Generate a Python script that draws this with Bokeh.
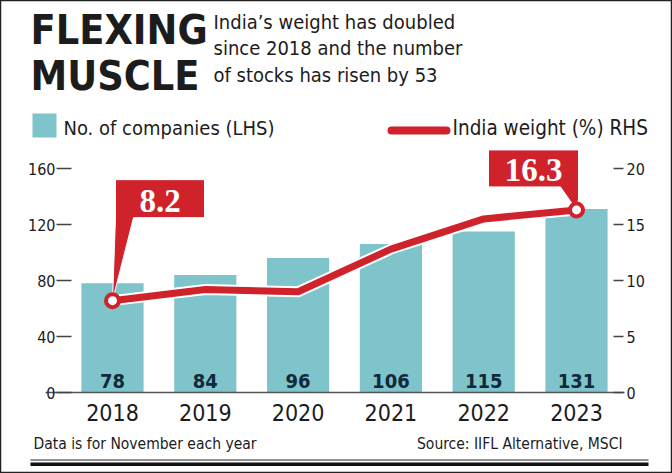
from bokeh.plotting import figure
from bokeh.models import Range1d, LinearAxis, FixedTicker, Label, BoxAnnotation, ColumnDataSource
from bokeh.core.properties import value
from bokeh.embed import file_html
from bokeh.resources import INLINE

# ---------------- data ----------------
years = ["2018", "2019", "2020", "2021", "2022", "2023"]
companies = [78, 84, 96, 106, 115, 131]
weight = [8.2, 9.2, 9.0, 12.8, 15.5, 16.3]
left_ticks = [0, 40, 80, 120, 160]
right_ticks = [0, 5, 10, 15, 20]

title_lines = ["FLEXING", "MUSCLE"]
subtitle_lines = ["India\u2019s weight has doubled",
                  "since 2018 and the number",
                  "of stocks has risen by 53"]
legend_bar = "No. of companies (LHS)"
legend_line = "India weight (%) RHS"
note_text = "Data is for November each year"
source_text = "Source: IIFL Alternative, MSCI"

# ---------------- style / layout ----------------
TEAL = "#7fc3cb"
RED = "#d0222a"
NAVY = "#0f2a3a"
INK = "#1c1c1c"
TITLEF = "DejaVu Sans Condensed, sans-serif"
NARROW = "DejaVu Sans Condensed, sans-serif"
SERIF = "Liberation Serif, DejaVu Serif, serif"

W, H = 672, 473
BAR0 = 112                    # x of first bar centre (px)
STEP = 92.8                   # px between bars
PXU = 1.4                     # px per left-axis unit
BASE = 392                    # y of the zero line (px from top)
RATIO = left_ticks[-1] / right_ticks[-1]


def dx(xr):
    return (xr - BAR0) / STEP


def dy(yr):
    return (BASE - yr) / PXU


xs = list(range(len(years)))

p = figure(width=W, height=H, output_backend="svg", toolbar_location=None,
           x_range=Range1d(dx(0), dx(W)), y_range=Range1d(dy(H), dy(0)),
           x_axis_location=None, y_axis_location=None,
           min_border=0)
p.extra_y_ranges = {"right": Range1d(dy(H) / RATIO, dy(0) / RATIO)}
p.grid.visible = False
p.outline_line_color = "#222222"
p.outline_line_width = 1.5
p.background_fill_color = "white"
p.border_fill_color = "white"

# x axis
xa = LinearAxis(ticker=FixedTicker(ticks=xs), fixed_location=0, bounds=(dx(45), dx(624)))
xa.major_label_overrides = {i: y for i, y in zip(xs, years)}
xa.major_tick_line_color = None
xa.minor_tick_line_color = None
xa.axis_line_color = "#555555"
xa.axis_line_width = 1.5
xa.major_label_standoff = 5
xa.major_label_text_font = NARROW
xa.major_label_text_font_size = "23px"
xa.major_label_text_color = INK
p.add_layout(xa, "below")

# left axis
la = LinearAxis(ticker=FixedTicker(ticks=left_ticks), fixed_location=dx(71))
la.axis_line_color = None
la.major_tick_in = 0
la.major_tick_out = 15
la.major_tick_line_color = "#444444"
la.major_tick_line_width = 1.5
la.minor_tick_line_color = None
la.major_label_standoff = 1
la.major_label_text_font = NARROW
la.major_label_text_font_size = "16px"
la.major_label_text_color = INK
p.add_layout(la, "left")

# right axis
ra = LinearAxis(y_range_name="right", ticker=FixedTicker(ticks=right_ticks),
                fixed_location=dx(613))
ra.axis_line_color = None
ra.major_tick_in = 0
ra.major_tick_out = 10
ra.major_tick_line_color = "#444444"
ra.major_tick_line_width = 1.5
ra.minor_tick_line_color = None
ra.major_label_standoff = 3
ra.major_label_text_font = NARROW
ra.major_label_text_font_size = "16px"
ra.major_label_text_color = INK
p.add_layout(ra, "right")

# bars
src = ColumnDataSource(dict(x=xs, c=companies, w=weight, lab=[str(c) for c in companies]))
p.vbar(x="x", top="c", width=0.67, source=src, fill_color=TEAL, line_color=None)
p.text(x="x", y=0, text="lab", source=src, text_align="center", text_baseline="bottom",
       y_offset=-5, text_font=value(NARROW), text_font_style="bold",
       text_font_size="20px", text_color=NAVY)

# line with white halo
p.line(x="x", y="w", source=src, y_range_name="right", line_width=11, line_color="white",
       line_join="round", line_cap="round")
p.line(x="x", y="w", source=src, y_range_name="right", line_width=7, line_color=RED,
       line_join="round")

# callouts for first and last value (pixel offsets from the point)
shapes = {
    0: [(3, 121), (92, 121), (92, 83), (21, 83), (0, 0), (3, 83)],
    len(xs) - 1: [(-88, 60), (2, 60), (2, 11), (0, 0), (-16, 23), (-88, 23)],
}
pys = PXU * RATIO
for i, poly in shapes.items():
    px = [xs[i] + ox / STEP for ox, oy in poly]
    py = [weight[i] + oy / pys for ox, oy in poly]
    p.patch(px, py, y_range_name="right", fill_color=RED, line_color="white", line_width=1)
    xl, xr = poly[0][0], poly[1][0]
    yt, yb = poly[0][1], poly[-1][1]
    p.text(x=[xs[i] + (xl + xr) / 2 / STEP], y=[weight[i] + (yt + yb) / 2 / pys],
           text=[f"{weight[i]:.1f}"], y_range_name="right", text_align="center",
           text_baseline="middle", text_font=value(SERIF), text_font_style="bold",
           text_font_size="33px", text_color="white", y_offset=2)

ends = [0, len(xs) - 1]
p.scatter(x=[xs[i] for i in ends], y=[weight[i] for i in ends], y_range_name="right",
          size=13, fill_color="white", line_color=RED, line_width=4)

# titles
for k, t in enumerate(title_lines):
    p.add_layout(Label(x=dx(30), y=dy(29 + k * 46), text=t, text_baseline="middle",
                       text_font=TITLEF, text_font_style="bold", text_font_size="41px",
                       text_color=INK))
for k, t in enumerate(subtitle_lines):
    p.add_layout(Label(x=dx(213), y=dy(21 + k * 26.5), text=t, text_baseline="middle",
                       text_font=NARROW, text_font_size="20px", text_color=INK))

# legend
p.add_layout(BoxAnnotation(left=dx(32), right=dx(56), top=dy(113), bottom=dy(137),
                           fill_color=TEAL, fill_alpha=1, line_alpha=0))
p.add_layout(Label(x=dx(63), y=dy(127), text=legend_bar, text_baseline="middle",
                   text_font=NARROW, text_font_size="20px", text_color=INK))
p.add_layout(BoxAnnotation(left=dx(387), right=dx(450), top=dy(126), bottom=dy(134),
                           fill_color=RED, fill_alpha=1, line_alpha=0, border_radius=4))
p.add_layout(Label(x=dx(452), y=dy(127), text=legend_line, text_baseline="middle",
                   text_font=NARROW, text_font_size="20.5px", text_color=INK))

# footer
p.add_layout(Label(x=dx(33), y=dy(443), text=note_text, text_baseline="middle",
                   text_font=NARROW, text_font_size="15.5px", text_color=INK))
p.add_layout(Label(x=dx(622), y=dy(443), text=source_text, text_baseline="middle",
                   text_align="right", text_font=NARROW, text_font_size="15.5px",
                   text_color=INK))
p.add_layout(BoxAnnotation(left=dx(30), right=dx(648), top=dy(459), bottom=dy(460),
                           fill_color="#222222", fill_alpha=1, line_alpha=0))
p.add_layout(BoxAnnotation(left=dx(30), right=dx(648), top=dy(462), bottom=dy(465.5),
                           fill_color="#111111", fill_alpha=1, line_alpha=0))

open("out.html", "w").write(file_html(p, INLINE))
